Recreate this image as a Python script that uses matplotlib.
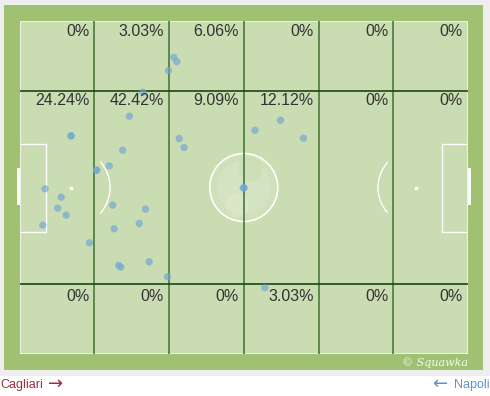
import matplotlib
matplotlib.use("Agg")
import matplotlib.pyplot as plt
from matplotlib.patches import Rectangle, Arc, Ellipse

# zonas: 6 colunas x 3 faixas (percentual de acoes)
col_edges = [0, 100 / 6, 200 / 6, 50, 400 / 6, 500 / 6, 100]
row_edges = [0, 21, 79, 100]
zone_pct = [
    ["0%", "3.03%", "6.06%", "0%", "0%", "0%"],
    ["24.24%", "42.42%", "9.09%", "12.12%", "0%", "0%"],
    ["0%", "0%", "0%", "3.03%", "0%", "0%"],
]

# posicoes das acoes (x: 0-100 esquerda->direita, y: 0-100 cima->baixo)
acoes_x = [11.5, 11.5, 5.7, 9.3, 8.5, 10.4, 5.2, 15.6,
           27.5, 24.5, 23.0, 20.0, 17.2, 17.2, 20.8, 28.1, 26.7, 21.1, 28.9, 22.1, 22.6, 33.0,
           34.4, 35.1, 33.2,
           35.6, 36.7, 49.9,
           50.1, 58.2, 52.5, 63.3,
           54.7]
acoes_y = [34.5, 34.5, 50.4, 52.9, 56.2, 58.3, 61.3, 66.6,
           21.4, 28.6, 38.8, 43.5, 44.8, 44.8, 55.3, 56.5, 60.8, 62.4, 72.3, 73.4, 73.9, 76.8,
           10.9, 12.2, 14.9,
           35.3, 38.0, 50.1,
           50.1, 29.8, 32.8, 35.2,
           80.1]

W, H = 490, 396
fig = plt.figure(figsize=(W / 100, H / 100), dpi=100)
fig.patch.set_facecolor("white")

# moldura cinza + gramado externo
fig.patches.append(Rectangle((0, (H - 376) / H), 1, 376 / H, transform=fig.transFigure,
                             facecolor="#eeeeee", edgecolor="none", zorder=-3))
fig.patches.append(Rectangle((4 / W, (H - 370) / H), 479 / W, 365 / H, transform=fig.transFigure,
                             facecolor="#a0c172", edgecolor="none", zorder=-2))

px_l, px_r, px_t, px_b = 19.5, 468, 21, 354
ax = fig.add_axes([px_l / W, (H - px_b) / H, (px_r - px_l) / W, (px_b - px_t) / H])
ax.set_xlim(0, 100)
ax.set_ylim(100, 0)
ax.axis("off")
ax.add_patch(Rectangle((0, 0), 100, 100, facecolor="#cadcb1", edgecolor="none", zorder=0))

# unidades por pixel
ux = 100 / (px_r - px_l)
uy = 100 / (px_b - px_t)

linha = dict(color="white", lw=1.0, zorder=2)
ax.plot([0, 100, 100, 0, 0], [0, 0, 100, 100, 0], color="white", lw=1.2, alpha=0.8, zorder=2)

# pequenas areas
ax.plot([0, 5.9, 5.9, 0], [36.9, 36.9, 63.4, 63.4], **linha)
ax.plot([100, 94.1, 94.1, 100], [36.9, 36.9, 63.4, 63.4], **linha)
# marcas do penalti
ax.scatter([11.5, 88.4], [50, 50], s=3, color="white", zorder=2)
# meia-lua
ax.add_patch(Arc((11.5, 50), 2 * 39 * ux, 2 * 39 * uy, theta1=-50, theta2=50,
                 color="white", lw=1.0, zorder=2))
ax.add_patch(Arc((88.4, 50), 2 * 38 * ux, 2 * 38 * uy, theta1=130, theta2=230,
                 color="white", lw=1.0, zorder=2))
# circulo central com logo
ax.add_patch(Ellipse((50, 50), 2 * 34 * ux, 2 * 34 * uy, facecolor="white", alpha=0.12,
                     edgecolor="none", zorder=1))
ax.add_patch(Ellipse((50, 50), 2 * 34 * ux, 2 * 34 * uy, facecolor="none",
                     edgecolor="white", lw=1.2, zorder=2))
ax.add_patch(Ellipse((50, 50), 2 * 27 * ux, 2 * 27 * uy, facecolor="white", alpha=0.10,
                     edgecolor="none", zorder=1))
ax.add_patch(Ellipse((51.5, 44.5), 2 * 12 * ux, 2 * 12 * uy, facecolor="#cadcb1", alpha=0.5,
                     edgecolor="none", zorder=1))
ax.add_patch(Ellipse((48.5, 55.5), 2 * 12 * ux, 2 * 12 * uy, facecolor="white", alpha=0.12,
                     edgecolor="none", zorder=1))
# escanteios
for cx, cy, t1 in [(0, 0, 270), (100, 0, 180), (0, 100, 0), (100, 100, 90)]:
    ax.add_patch(Arc((cx, cy), 2 * 5 * ux, 2 * 5 * uy, theta1=t1, theta2=t1 + 90,
                     color="white", lw=0.9, zorder=2))
# gols
ax.add_patch(Rectangle((-2.5 * ux, 44.1), 2.5 * ux, 11.2, facecolor="white",
                       edgecolor="none", zorder=2, clip_on=False))
ax.add_patch(Rectangle((100, 44.1), 2.5 * ux, 11.2, facecolor="white",
                       edgecolor="none", zorder=2, clip_on=False))

# grade das zonas
for xv in col_edges[1:-1]:
    ax.plot([xv, xv], [0, 100], color="#4a7a3a", lw=1.2, zorder=3)
for yv in row_edges[1:-1]:
    ax.plot([0, 100], [yv, yv], color="#1b4512", lw=1.2, zorder=3)

# acoes
ax.scatter(acoes_x, acoes_y, s=28, color="#6fa6d6", alpha=0.65, edgecolors="none", zorder=4)

# percentuais
text_y = [3.3, 24.0, 82.6]
for i, row in enumerate(zone_pct):
    for j, lab in enumerate(row):
        ax.text(col_edges[j + 1] - 5 * ux, text_y[i], lab, ha="right", va="center",
                fontsize=11.5, color="#333333", family="Liberation Sans", zorder=5)

fig.text(468 / W, 1 - 363 / H, "\u00a9 Squawka", ha="right", va="center", color="white",
         fontsize=8, family="DejaVu Serif", style="italic", alpha=0.9)

fig.text(0, 1 - 385 / H, "Cagliari", ha="left", va="center", color="#9b2d3d",
         fontsize=9, family="Liberation Sans")
fig.text(48 / W, 1 - 384 / H, "\u2192", ha="left", va="center", color="#9b2d3d",
         fontsize=13, family="DejaVu Sans")
fig.text(1, 1 - 385 / H, "Napoli", ha="right", va="center", color="#5f93c9",
         fontsize=9, family="Liberation Sans")
fig.text(447 / W, 1 - 384 / H, "\u2190", ha="right", va="center", color="#5f93c9",
         fontsize=13, family="DejaVu Sans")

fig.savefig("out.png", dpi=100)
